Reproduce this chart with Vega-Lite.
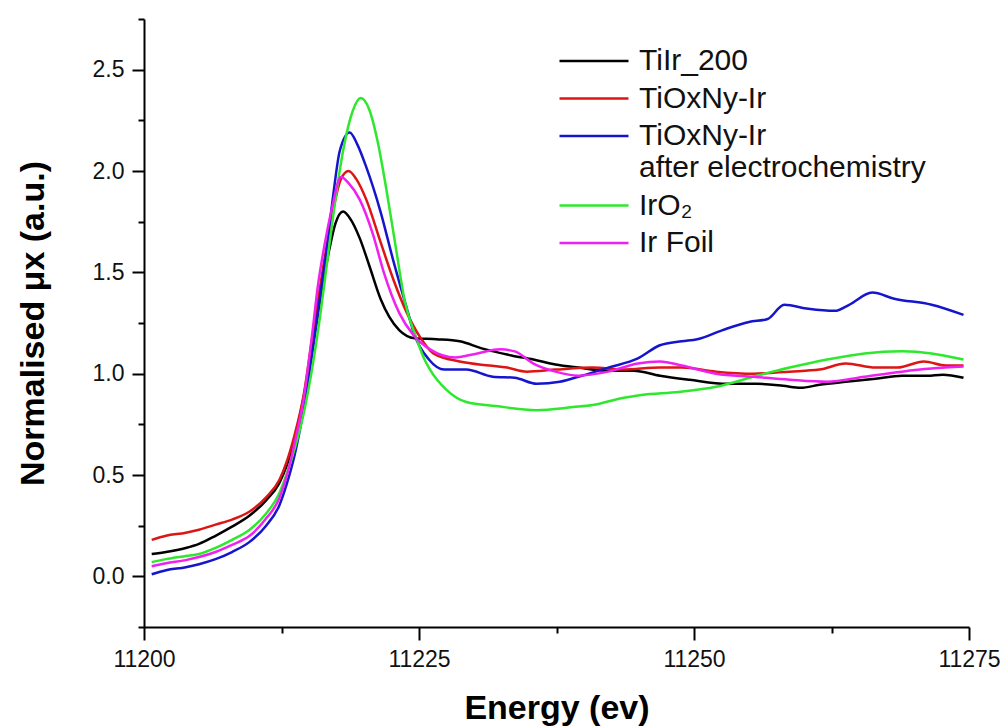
{
  "$schema": "https://vega.github.io/schema/vega-lite/v6.json",
  "width": 825,
  "height": 608,
  "autosize": {"type": "none"},
  "padding": {"left": 144, "top": 19, "right": 36, "bottom": 100},
  "background": "white",
  "config": {
    "view": {"stroke": null},
    "font": "Liberation Sans",
    "axis": {
      "domainColor": "#000000",
      "domainWidth": 2,
      "tickColor": "#000000",
      "tickWidth": 2,
      "labelColor": "#111111",
      "labelFont": "Liberation Sans",
      "labelFontSize": 23,
      "titleFont": "Liberation Sans",
      "titleFontSize": 34,
      "titleFontWeight": "bold",
      "titleColor": "#000000",
      "grid": false
    }
  },
  "data": {
    "values": [
      {"s": "TiIr_200", "E": 11200.7, "v": 0.11},
      {"s": "TiIr_200", "E": 11202, "v": 0.12},
      {"s": "TiIr_200", "E": 11203.8, "v": 0.14},
      {"s": "TiIr_200", "E": 11205, "v": 0.16},
      {"s": "TiIr_200", "E": 11206.5, "v": 0.2},
      {"s": "TiIr_200", "E": 11208, "v": 0.245},
      {"s": "TiIr_200", "E": 11209.6, "v": 0.3},
      {"s": "TiIr_200", "E": 11211.1, "v": 0.375},
      {"s": "TiIr_200", "E": 11212.3, "v": 0.46},
      {"s": "TiIr_200", "E": 11213, "v": 0.55},
      {"s": "TiIr_200", "E": 11213.7, "v": 0.67},
      {"s": "TiIr_200", "E": 11214.5, "v": 0.88},
      {"s": "TiIr_200", "E": 11215.3, "v": 1.12},
      {"s": "TiIr_200", "E": 11216, "v": 1.36},
      {"s": "TiIr_200", "E": 11216.8, "v": 1.6},
      {"s": "TiIr_200", "E": 11217.4, "v": 1.74},
      {"s": "TiIr_200", "E": 11218.1, "v": 1.8},
      {"s": "TiIr_200", "E": 11218.8, "v": 1.76},
      {"s": "TiIr_200", "E": 11219.6, "v": 1.67},
      {"s": "TiIr_200", "E": 11220.5, "v": 1.53},
      {"s": "TiIr_200", "E": 11221.5, "v": 1.37},
      {"s": "TiIr_200", "E": 11222.3, "v": 1.28},
      {"s": "TiIr_200", "E": 11223.2, "v": 1.215},
      {"s": "TiIr_200", "E": 11224.6, "v": 1.175},
      {"s": "TiIr_200", "E": 11226.6, "v": 1.17},
      {"s": "TiIr_200", "E": 11228.7, "v": 1.16},
      {"s": "TiIr_200", "E": 11230.7, "v": 1.125},
      {"s": "TiIr_200", "E": 11233.4, "v": 1.09},
      {"s": "TiIr_200", "E": 11235.4, "v": 1.07},
      {"s": "TiIr_200", "E": 11237.4, "v": 1.045},
      {"s": "TiIr_200", "E": 11239.5, "v": 1.03},
      {"s": "TiIr_200", "E": 11242.2, "v": 1.015},
      {"s": "TiIr_200", "E": 11244.5, "v": 1.015},
      {"s": "TiIr_200", "E": 11246.9, "v": 0.99},
      {"s": "TiIr_200", "E": 11249.6, "v": 0.97},
      {"s": "TiIr_200", "E": 11253, "v": 0.95},
      {"s": "TiIr_200", "E": 11255.7, "v": 0.95},
      {"s": "TiIr_200", "E": 11258.1, "v": 0.94},
      {"s": "TiIr_200", "E": 11259.7, "v": 0.93},
      {"s": "TiIr_200", "E": 11261.4, "v": 0.945},
      {"s": "TiIr_200", "E": 11263.8, "v": 0.96},
      {"s": "TiIr_200", "E": 11266.5, "v": 0.975},
      {"s": "TiIr_200", "E": 11268.9, "v": 0.99},
      {"s": "TiIr_200", "E": 11271.2, "v": 0.99},
      {"s": "TiIr_200", "E": 11272.6, "v": 0.995},
      {"s": "TiIr_200", "E": 11274.5, "v": 0.98},

      {"s": "TiOxNy-Ir", "E": 11200.7, "v": 0.18},
      {"s": "TiOxNy-Ir", "E": 11202, "v": 0.2},
      {"s": "TiOxNy-Ir", "E": 11203.8, "v": 0.215},
      {"s": "TiOxNy-Ir", "E": 11205, "v": 0.23},
      {"s": "TiOxNy-Ir", "E": 11206.5, "v": 0.255},
      {"s": "TiOxNy-Ir", "E": 11208, "v": 0.28},
      {"s": "TiOxNy-Ir", "E": 11209.6, "v": 0.32},
      {"s": "TiOxNy-Ir", "E": 11211.1, "v": 0.39},
      {"s": "TiOxNy-Ir", "E": 11212.3, "v": 0.475},
      {"s": "TiOxNy-Ir", "E": 11213, "v": 0.57},
      {"s": "TiOxNy-Ir", "E": 11213.7, "v": 0.7},
      {"s": "TiOxNy-Ir", "E": 11214.5, "v": 0.89},
      {"s": "TiOxNy-Ir", "E": 11215.3, "v": 1.18},
      {"s": "TiOxNy-Ir", "E": 11216.3, "v": 1.53},
      {"s": "TiOxNy-Ir", "E": 11217.2, "v": 1.81},
      {"s": "TiOxNy-Ir", "E": 11217.9, "v": 1.96},
      {"s": "TiOxNy-Ir", "E": 11218.6, "v": 2.0},
      {"s": "TiOxNy-Ir", "E": 11219.3, "v": 1.96},
      {"s": "TiOxNy-Ir", "E": 11220.2, "v": 1.86},
      {"s": "TiOxNy-Ir", "E": 11221.5, "v": 1.65},
      {"s": "TiOxNy-Ir", "E": 11222.7, "v": 1.46},
      {"s": "TiOxNy-Ir", "E": 11223.9, "v": 1.3},
      {"s": "TiOxNy-Ir", "E": 11225.1, "v": 1.18},
      {"s": "TiOxNy-Ir", "E": 11226.3, "v": 1.1},
      {"s": "TiOxNy-Ir", "E": 11228.7, "v": 1.06},
      {"s": "TiOxNy-Ir", "E": 11231.4, "v": 1.04},
      {"s": "TiOxNy-Ir", "E": 11233, "v": 1.03},
      {"s": "TiOxNy-Ir", "E": 11234.8, "v": 1.01},
      {"s": "TiOxNy-Ir", "E": 11237.4, "v": 1.02},
      {"s": "TiOxNy-Ir", "E": 11240.8, "v": 1.03},
      {"s": "TiOxNy-Ir", "E": 11243.5, "v": 1.02},
      {"s": "TiOxNy-Ir", "E": 11246.9, "v": 1.03},
      {"s": "TiOxNy-Ir", "E": 11248.9, "v": 1.03},
      {"s": "TiOxNy-Ir", "E": 11252, "v": 1.01},
      {"s": "TiOxNy-Ir", "E": 11255.4, "v": 1.0},
      {"s": "TiOxNy-Ir", "E": 11258.7, "v": 1.01},
      {"s": "TiOxNy-Ir", "E": 11261.4, "v": 1.02},
      {"s": "TiOxNy-Ir", "E": 11263.8, "v": 1.05},
      {"s": "TiOxNy-Ir", "E": 11266.5, "v": 1.03},
      {"s": "TiOxNy-Ir", "E": 11268.5, "v": 1.03},
      {"s": "TiOxNy-Ir", "E": 11270.9, "v": 1.06},
      {"s": "TiOxNy-Ir", "E": 11272.9, "v": 1.04},
      {"s": "TiOxNy-Ir", "E": 11274.5, "v": 1.04},

      {"s": "TiOxNy-Ir after electrochemistry", "E": 11200.7, "v": 0.01},
      {"s": "TiOxNy-Ir after electrochemistry", "E": 11202, "v": 0.03},
      {"s": "TiOxNy-Ir after electrochemistry", "E": 11203.8, "v": 0.045},
      {"s": "TiOxNy-Ir after electrochemistry", "E": 11205, "v": 0.06},
      {"s": "TiOxNy-Ir after electrochemistry", "E": 11206.5, "v": 0.085},
      {"s": "TiOxNy-Ir after electrochemistry", "E": 11208, "v": 0.12},
      {"s": "TiOxNy-Ir after electrochemistry", "E": 11209.6, "v": 0.17},
      {"s": "TiOxNy-Ir after electrochemistry", "E": 11211.1, "v": 0.25},
      {"s": "TiOxNy-Ir after electrochemistry", "E": 11212.3, "v": 0.35},
      {"s": "TiOxNy-Ir after electrochemistry", "E": 11213, "v": 0.46},
      {"s": "TiOxNy-Ir after electrochemistry", "E": 11213.7, "v": 0.6},
      {"s": "TiOxNy-Ir after electrochemistry", "E": 11214.5, "v": 0.82},
      {"s": "TiOxNy-Ir after electrochemistry", "E": 11215.3, "v": 1.1},
      {"s": "TiOxNy-Ir after electrochemistry", "E": 11216, "v": 1.38},
      {"s": "TiOxNy-Ir after electrochemistry", "E": 11216.6, "v": 1.61},
      {"s": "TiOxNy-Ir after electrochemistry", "E": 11217.2, "v": 1.88},
      {"s": "TiOxNy-Ir after electrochemistry", "E": 11217.8, "v": 2.1},
      {"s": "TiOxNy-Ir after electrochemistry", "E": 11218.7, "v": 2.19},
      {"s": "TiOxNy-Ir after electrochemistry", "E": 11219.4, "v": 2.13},
      {"s": "TiOxNy-Ir after electrochemistry", "E": 11220.2, "v": 2.02},
      {"s": "TiOxNy-Ir after electrochemistry", "E": 11221.5, "v": 1.8},
      {"s": "TiOxNy-Ir after electrochemistry", "E": 11222.7, "v": 1.55},
      {"s": "TiOxNy-Ir after electrochemistry", "E": 11223.9, "v": 1.32},
      {"s": "TiOxNy-Ir after electrochemistry", "E": 11224.6, "v": 1.19},
      {"s": "TiOxNy-Ir after electrochemistry", "E": 11225.9, "v": 1.07},
      {"s": "TiOxNy-Ir after electrochemistry", "E": 11227.3, "v": 1.02},
      {"s": "TiOxNy-Ir after electrochemistry", "E": 11229.3, "v": 1.02},
      {"s": "TiOxNy-Ir after electrochemistry", "E": 11231.7, "v": 0.985},
      {"s": "TiOxNy-Ir after electrochemistry", "E": 11233.7, "v": 0.98},
      {"s": "TiOxNy-Ir after electrochemistry", "E": 11235.7, "v": 0.95},
      {"s": "TiOxNy-Ir after electrochemistry", "E": 11237.8, "v": 0.96},
      {"s": "TiOxNy-Ir after electrochemistry", "E": 11239.8, "v": 0.99},
      {"s": "TiOxNy-Ir after electrochemistry", "E": 11242.2, "v": 1.03},
      {"s": "TiOxNy-Ir after electrochemistry", "E": 11244.9, "v": 1.075},
      {"s": "TiOxNy-Ir after electrochemistry", "E": 11246.9, "v": 1.14},
      {"s": "TiOxNy-Ir after electrochemistry", "E": 11248.9, "v": 1.16},
      {"s": "TiOxNy-Ir after electrochemistry", "E": 11250.3, "v": 1.17},
      {"s": "TiOxNy-Ir after electrochemistry", "E": 11252.6, "v": 1.215},
      {"s": "TiOxNy-Ir after electrochemistry", "E": 11255, "v": 1.255},
      {"s": "TiOxNy-Ir after electrochemistry", "E": 11256.7, "v": 1.27},
      {"s": "TiOxNy-Ir after electrochemistry", "E": 11258.2, "v": 1.34},
      {"s": "TiOxNy-Ir after electrochemistry", "E": 11260.4, "v": 1.32},
      {"s": "TiOxNy-Ir after electrochemistry", "E": 11262.8, "v": 1.31},
      {"s": "TiOxNy-Ir after electrochemistry", "E": 11264.1, "v": 1.34},
      {"s": "TiOxNy-Ir after electrochemistry", "E": 11266.2, "v": 1.4},
      {"s": "TiOxNy-Ir after electrochemistry", "E": 11268.2, "v": 1.37},
      {"s": "TiOxNy-Ir after electrochemistry", "E": 11271.6, "v": 1.34},
      {"s": "TiOxNy-Ir after electrochemistry", "E": 11274.5, "v": 1.29},

      {"s": "IrO₂", "E": 11200.7, "v": 0.07},
      {"s": "IrO₂", "E": 11202, "v": 0.085},
      {"s": "IrO₂", "E": 11203.8, "v": 0.1},
      {"s": "IrO₂", "E": 11205, "v": 0.11},
      {"s": "IrO₂", "E": 11206.5, "v": 0.14},
      {"s": "IrO₂", "E": 11208, "v": 0.18},
      {"s": "IrO₂", "E": 11209.6, "v": 0.23},
      {"s": "IrO₂", "E": 11211.1, "v": 0.31},
      {"s": "IrO₂", "E": 11212.3, "v": 0.41},
      {"s": "IrO₂", "E": 11213, "v": 0.51},
      {"s": "IrO₂", "E": 11213.7, "v": 0.63},
      {"s": "IrO₂", "E": 11214.5, "v": 0.8},
      {"s": "IrO₂", "E": 11215.3, "v": 1.03},
      {"s": "IrO₂", "E": 11216, "v": 1.28},
      {"s": "IrO₂", "E": 11216.6, "v": 1.53},
      {"s": "IrO₂", "E": 11217.3, "v": 1.82},
      {"s": "IrO₂", "E": 11218.1, "v": 2.1},
      {"s": "IrO₂", "E": 11219, "v": 2.3},
      {"s": "IrO₂", "E": 11219.7, "v": 2.36},
      {"s": "IrO₂", "E": 11220.5, "v": 2.3},
      {"s": "IrO₂", "E": 11221.3, "v": 2.13},
      {"s": "IrO₂", "E": 11222, "v": 1.92},
      {"s": "IrO₂", "E": 11222.9, "v": 1.62},
      {"s": "IrO₂", "E": 11223.7, "v": 1.36},
      {"s": "IrO₂", "E": 11224.8, "v": 1.17},
      {"s": "IrO₂", "E": 11225.5, "v": 1.07},
      {"s": "IrO₂", "E": 11226, "v": 1.02},
      {"s": "IrO₂", "E": 11227.5, "v": 0.92},
      {"s": "IrO₂", "E": 11229.3, "v": 0.86},
      {"s": "IrO₂", "E": 11232, "v": 0.84},
      {"s": "IrO₂", "E": 11235.7, "v": 0.82},
      {"s": "IrO₂", "E": 11239, "v": 0.835},
      {"s": "IrO₂", "E": 11240.8, "v": 0.845},
      {"s": "IrO₂", "E": 11243.5, "v": 0.88},
      {"s": "IrO₂", "E": 11245.2, "v": 0.895},
      {"s": "IrO₂", "E": 11248.6, "v": 0.91},
      {"s": "IrO₂", "E": 11252, "v": 0.935},
      {"s": "IrO₂", "E": 11255.4, "v": 0.985},
      {"s": "IrO₂", "E": 11258.7, "v": 1.03},
      {"s": "IrO₂", "E": 11262.1, "v": 1.07},
      {"s": "IrO₂", "E": 11265.5, "v": 1.1},
      {"s": "IrO₂", "E": 11268.9, "v": 1.11},
      {"s": "IrO₂", "E": 11271.6, "v": 1.1},
      {"s": "IrO₂", "E": 11274.5, "v": 1.07},

      {"s": "Ir Foil", "E": 11200.7, "v": 0.05},
      {"s": "Ir Foil", "E": 11202, "v": 0.065},
      {"s": "Ir Foil", "E": 11203.8, "v": 0.08},
      {"s": "Ir Foil", "E": 11205, "v": 0.095},
      {"s": "Ir Foil", "E": 11206.5, "v": 0.12},
      {"s": "Ir Foil", "E": 11208, "v": 0.155},
      {"s": "Ir Foil", "E": 11209.6, "v": 0.2},
      {"s": "Ir Foil", "E": 11211.1, "v": 0.285},
      {"s": "Ir Foil", "E": 11212.3, "v": 0.385},
      {"s": "Ir Foil", "E": 11213, "v": 0.5},
      {"s": "Ir Foil", "E": 11213.7, "v": 0.66},
      {"s": "Ir Foil", "E": 11214.5, "v": 0.87},
      {"s": "Ir Foil", "E": 11215.3, "v": 1.2},
      {"s": "Ir Foil", "E": 11215.8, "v": 1.43},
      {"s": "Ir Foil", "E": 11216.5, "v": 1.66},
      {"s": "Ir Foil", "E": 11217.1, "v": 1.82},
      {"s": "Ir Foil", "E": 11217.9, "v": 1.97},
      {"s": "Ir Foil", "E": 11218.6, "v": 1.94},
      {"s": "Ir Foil", "E": 11219.6, "v": 1.86},
      {"s": "Ir Foil", "E": 11220.8, "v": 1.69},
      {"s": "Ir Foil", "E": 11221.8, "v": 1.5},
      {"s": "Ir Foil", "E": 11223.2, "v": 1.3},
      {"s": "Ir Foil", "E": 11224.5, "v": 1.19},
      {"s": "Ir Foil", "E": 11226, "v": 1.12},
      {"s": "Ir Foil", "E": 11228.3, "v": 1.08},
      {"s": "Ir Foil", "E": 11230.3, "v": 1.1},
      {"s": "Ir Foil", "E": 11232.4, "v": 1.12},
      {"s": "Ir Foil", "E": 11233.7, "v": 1.11},
      {"s": "Ir Foil", "E": 11235.4, "v": 1.05},
      {"s": "Ir Foil", "E": 11237.4, "v": 1.01},
      {"s": "Ir Foil", "E": 11239.5, "v": 0.99},
      {"s": "Ir Foil", "E": 11242.2, "v": 1.01},
      {"s": "Ir Foil", "E": 11244.9, "v": 1.05},
      {"s": "Ir Foil", "E": 11246.9, "v": 1.06},
      {"s": "Ir Foil", "E": 11248.9, "v": 1.04},
      {"s": "Ir Foil", "E": 11252, "v": 1.0},
      {"s": "Ir Foil", "E": 11255.4, "v": 0.985},
      {"s": "Ir Foil", "E": 11258.7, "v": 0.97},
      {"s": "Ir Foil", "E": 11262.1, "v": 0.96},
      {"s": "Ir Foil", "E": 11265.5, "v": 0.985},
      {"s": "Ir Foil", "E": 11268.9, "v": 1.01},
      {"s": "Ir Foil", "E": 11271.6, "v": 1.025},
      {"s": "Ir Foil", "E": 11274.5, "v": 1.035}
    ]
  },
  "mark": {"type": "line", "strokeWidth": 2.5, "interpolate": "monotone"},
  "encoding": {
    "x": {
      "field": "E",
      "type": "quantitative",
      "scale": {"domain": [11200, 11275], "nice": false, "zero": false},
      "axis": {
        "title": "Energy (ev)",
        "values": [11200, 11212.5, 11225, 11237.5, 11250, 11262.5, 11275],
        "labelExpr": "datum.value % 25 === 0 ? format(datum.value, 'd') : ''",
        "tickSize": {"condition": {"test": "datum.value % 25 !== 0", "value": 6}, "value": 13},
        "labelPadding": 8,
        "labelFlush": false,
        "labelOverlap": false,
        "titlePadding": 20
      }
    },
    "y": {
      "field": "v",
      "type": "quantitative",
      "scale": {"domain": [-0.25, 2.75], "nice": false, "zero": false},
      "axis": {
        "title": "Normalised μx (a.u.)",
        "values": [-0.25, 0, 0.25, 0.5, 0.75, 1, 1.25, 1.5, 1.75, 2, 2.25, 2.5, 2.75],
        "labelExpr": "datum.value % 0.5 === 0 && datum.value >= 0 ? format(datum.value, '.1f') : ''",
        "tickSize": {"condition": {"test": "datum.value % 0.5 !== 0", "value": 6}, "value": 12},
        "labelPadding": 8,
        "labelFlush": false,
        "labelOverlap": false,
        "titlePadding": 42
      }
    },
    "color": {
      "field": "s",
      "type": "nominal",
      "sort": null,
      "scale": {
        "domain": ["TiIr_200", "TiOxNy-Ir", "TiOxNy-Ir after electrochemistry", "IrO₂", "Ir Foil"],
        "range": ["#000000", "#dd1515", "#1515cc", "#2ee82e", "#f020f0"]
      },
      "legend": {
        "title": null,
        "orient": "none",
        "legendX": 414,
        "legendY": 27,
        "symbolType": "stroke",
        "symbolSize": 4761,
        "symbolStrokeWidth": 2.5,
        "clipHeight": 30,
        "labelFont": "Liberation Sans",
        "labelFontSize": 30,
        "labelColor": "#111111",
        "labelOffset": 9,
        "labelLimit": 600,
        "rowPadding": 7.5,
        "labelExpr": "datum.label == 'TiOxNy-Ir after electrochemistry' ? ['TiOxNy-Ir', 'after electrochemistry'] : datum.label"
      }
    }
  }
}
